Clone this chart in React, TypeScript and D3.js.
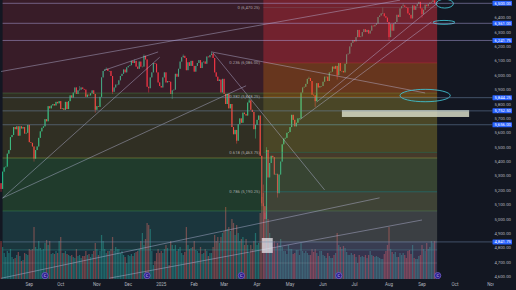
import React, { useMemo } from "react";
import * as d3 from "d3";

const HOLIDAYS = ["2024-09-02","2024-11-28","2024-12-25","2025-01-01","2025-01-20","2025-02-17","2025-04-18","2025-05-26","2025-06-19","2025-07-04","2025-09-01","2025-11-27"];

const FIRST_OPEN = 5475;
// daily closes, 2024-08-01 .. 2025-09-12
const CLOSES = [
  5460,5360,5200,5250,5210,5330,5360,5365,5455,5480,5570,5585,5640,5625,5645,5580,5645,5630,5640,5595,5600,5655,
  5535,5530,5505,5420,5480,5505,5565,5610,5635,5645,5695,5680,5785,5770,5790,5800,5790,5815,5805,5820,
  5765,5770,5760,5815,5765,5820,5860,5845,5880,5915,5870,5895,5900,5915,5905,5900,5850,5865,5860,5875,5895,5870,5760,
  5785,5780,5850,5985,6030,6040,6045,6030,6030,5995,5885,5915,5935,5935,5965,5995,6010,6040,6020,6055,
  6065,6070,6100,6085,6100,6060,6045,6095,6060,6060,6135,6110,5920,5910,5985,6020,6085,6080,6020,5950,5925,
  5915,5985,6020,5950,5960,5955,5870,5895,5900,6010,5990,6045,6095,6125,6135,6120,6035,6090,6065,6100,6065,
  6025,6065,6085,6105,6050,6090,6095,6080,6130,6125,6140,6150,6120,6020,5990,5960,5970,5880,5975,
  5870,5800,5870,5770,5800,5640,5590,5620,5545,5660,5700,5670,5740,5730,5720,5810,5825,5760,5745,5625,5655,
  5690,5720,5440,5110,5090,5000,5480,5290,5390,5440,5430,5310,5315,5180,5310,5400,5520,5560,5565,5600,5605,
  5640,5725,5690,5645,5670,5700,5700,5880,5915,5920,5940,5975,5980,5960,5865,5860,5820,5945,5915,5925,5925,
  5955,5990,5990,5960,6020,6025,6060,6045,6065,6000,6085,6030,6030,6020,6080,6145,6150,6200,6225,6245,
  6235,6265,6315,6265,6270,6300,6320,6300,6315,6290,6310,6345,6340,6350,6360,6405,6415,6430,6430,6410,6400,6370,
  6265,6355,6310,6360,6370,6420,6405,6465,6480,6485,6475,6470,6430,6420,6395,6485,6455,6480,6495,6510,6465,
  6425,6455,6490,6480,6495,6505,6510,6520,6500,
];
// daily volume (thousands)
const VOLUMES = [
  1650,1900,2400,2000,1900,1600,1300,1100,1400,1300,1500,1100,1000,1050,1200,1350,1150,900,950,1300,1250,1200,
  1500,1450,1500,2600,1600,1500,1900,1550,1450,1500,1800,1950,1700,1900,1250,1300,1250,1400,1300,1900,
  2100,1300,1300,1400,1250,1200,1150,1200,1100,1050,1500,1150,1200,1050,1150,1150,1400,1200,1250,1100,1250,1400,1800,
  1500,1200,1400,2200,1900,1500,1300,1400,1400,1500,2100,1400,1600,1500,1500,1300,1400,1200,1100,800,
  1200,1150,1250,1150,1300,1350,1400,1500,1900,2300,1700,2000,2800,2700,2500,1400,700,900,1300,1500,1300,
  1400,1300,1500,1700,1550,700,1900,1700,1500,1700,1400,1500,1600,1300,1200,1350,2600,1700,1500,1550,1600,
  1900,1450,1400,1300,1600,1250,1300,1500,1400,1150,1300,1300,1600,2200,1900,2100,1800,2100,2300,
  2400,3600,2500,2600,2400,3000,2800,2200,2700,2300,1900,2000,2100,1700,2000,1700,1300,1700,1500,1900,2300,
  1700,1800,3300,4100,4300,3300,3600,3000,2300,2000,1600,1900,1600,1800,1700,2000,1600,1400,1400,1250,1700,
  1500,1500,1250,1300,1450,1450,1200,1800,1400,1300,1400,1300,1200,1200,1500,1350,1500,1300,1150,1400,1400,
  1200,1150,1050,1300,1150,1050,1050,1200,1300,2300,1700,1600,1500,1650,1550,1350,1200,1200,1300,1200,
  1250,1100,800,1200,1100,1150,1100,1200,1050,1200,1400,1200,1150,1100,1150,1100,1050,1000,1000,1250,1400,1700,
  2600,1500,1350,1250,1350,1100,1100,1300,1200,1300,1200,1050,1400,1450,1250,1700,1050,1000,1000,1150,1200,
  1700,1500,1400,1800,1500,1600,1900,1800,1900,
];
const WICK_HIGHS: [string, number][] = [
  ["2024-10-17",5925],["2024-11-11",6055],["2024-12-06",6110],["2024-12-16",6145],["2025-01-23",6145],
  ["2025-02-19",6165],["2025-03-25",5840],["2025-04-07",5240],["2025-04-09",5500],["2025-05-19",5990],
  ["2025-07-28",6470.25],["2025-08-14",6500],["2025-09-11",6522],
];
const WICK_LOWS: [string, number][] = [
  ["2024-08-05",5120],["2024-08-07",5190],["2024-09-06",5400],["2024-10-31",5740],["2024-11-15",5870],
  ["2024-12-19",5880],["2025-01-13",5835],["2025-03-13",5525],["2025-03-31",5560],["2025-04-04",5090],
  ["2025-04-07",4841.75],["2025-04-21",5150],["2025-05-23",5780],["2025-06-13",5970],["2025-08-01",6240],
  ["2025-09-02",6400],
];

const PRICE_TICKS = [6400,6300,6200,6100,6000,5900,5800,5700,5600,5500,5400,5300,5200,5100,5000,4900,4800,4700,4600];
const MONTH_LABELS: [string, string][] = [
  ["2024-09","Sep"],["2024-10","Oct"],["2024-11","Nov"],["2024-12","Dec"],["2025-01","2025"],["2025-02","Feb"],
  ["2025-03","Mar"],["2025-04","Apr"],["2025-05","May"],["2025-06","Jun"],["2025-07","Jul"],["2025-08","Aug"],
  ["2025-09","Sep"],["2025-10","Oct"],["2025-11","Nov"],
];
const UPPER_LINES = [6500, 6361, 6241.75];
const LOWER_LINES = [5844.25, 5752.5, 5656, 4841.75];
const PLAIN_LINES = [4695];

const FIB_HIGH = 6470.25;
const FIB_LOW = 4841.75;
const FIB_LEVELS = [0, 0.236, 0.382, 0.5, 0.618, 0.786, 1];
const FIB_LABELED = [0, 0.236, 0.382, 0.618, 0.786];
const FIB_START = "2025-04-07";
const ZONE_END = "2025-09-15";
const LEFT_START = "2024-08-08";
const LEFT_LEVELS = [5876, 5425, 5057, 4786];

const TREND_LINES: [string, number, string, number][] = [
  ["2024-08-07",6026,"2025-08-12",6522],
  ["2024-11-08",6036,"2024-12-30",6162],
  ["2024-08-08",5147,"2024-12-31",6125],
  ["2024-08-08",5147,"2025-03-21",5927],
  ["2025-02-19",6162,"2025-09-04",5877],
  ["2025-02-20",6155,"2025-06-03",5203],
  ["2025-05-27",5814,"2025-09-16",6503],
  ["2025-05-09",5690,"2025-09-10",6370],
  ["2024-08-07",4589,"2025-07-24",5148],
  ["2024-11-13",4590,"2025-09-02",4994],
];
const RECTS: [string, string, number, number][] = [
  ["2025-04-04","2025-04-15",4765,4869],
  ["2025-06-18","2025-10-14",5710,5758],
];
const ELLIPSES: [string, string, number, number][] = [
  ["2025-09-15","2025-09-30",6467,6528],
  ["2025-09-11","2025-10-01",6354,6381],
  ["2025-08-12","2025-09-26",5816,5902],
];
const ROLL_MARKERS = ["2024-09-17","2024-12-18","2025-03-18","2025-06-16","2025-09-16"];

function tradingDays(start: string, end: string): string[] {
  const out: string[] = [];
  const d = new Date(start + "T12:00:00Z");
  const e = new Date(end + "T12:00:00Z");
  while (d <= e) {
    const wd = d.getUTCDay();
    const s = d.toISOString().slice(0, 10);
    if (wd !== 0 && wd !== 6 && !HOLIDAYS.includes(s)) out.push(s);
    d.setUTCDate(d.getUTCDate() + 1);
  }
  return out;
}

const W = 516, H = 290, PLOT_R = 490, PLOT_B = 279;
const FONT = "Roboto, 'Noto Sans', sans-serif";

export default function App() {
  const days = useMemo(() => tradingDays("2024-08-01", "2025-11-28"), []);
  const di = (s: string) => days.indexOf(s);
  const x = d3.scaleLinear().domain([di("2024-09-03"), di("2025-09-02")]).range([29.3, 422]);
  const y = d3.scaleLinear().domain([4600, 6500]).range([276.7, 3.3]);
  const v = d3.scaleLinear().domain([0, 4500]).range([PLOT_B, 189]);
  const xd = (s: string) => x(di(s));
  const fmt = d3.format(",.2f");

  const hiMap = new Map(WICK_HIGHS);
  const loMap = new Map(WICK_LOWS);
  const candles = CLOSES.map((c, i) => {
    const o = i === 0 ? FIRST_OPEN : CLOSES[i - 1];
    const d = days[i];
    const h = Math.max(o, c, hiMap.has(d) ? hiMap.get(d)! : -Infinity);
    const l = Math.min(o, c, loMap.has(d) ? loMap.get(d)! : Infinity);
    return { d, i, o, c, h, l, up: c >= o, vol: VOLUMES[i] };
  });

  const fibPrice = (lvl: number) => FIB_HIGH - lvl * (FIB_HIGH - FIB_LOW);
  const round4 = (p: number) => Math.round(p * 4) / 4;
  const xEnd = xd(ZONE_END) + 1;
  const xLeft = xd(LEFT_START);
  const xFib = xd(FIB_START);

  const leftBounds = [7000, ...LEFT_LEVELS, 4000];
  const leftColors = ["rgba(242,54,69,0.17)", "rgba(230,200,40,0.14)", "rgba(76,175,80,0.24)", "rgba(60,170,160,0.22)", "rgba(60,170,190,0.14)"];
  const leftLineColors = ["#4f8f50", "#a8b848", "#3f9a5a", "#3a9a9a"];
  const rightBounds = [7000, fibPrice(0.236), fibPrice(0.382), fibPrice(0.618), fibPrice(0.786), fibPrice(1), 4000];
  const rightColors = ["rgba(245,50,62,0.31)", "rgba(255,140,0,0.24)", "rgba(255,235,59,0.13)", "rgba(200,130,95,0.14)", "rgba(190,100,95,0.2)", "rgba(165,85,160,0.22)"];
  const fibLineColors = ["#787b86", "#f23645", "#ff9800", "#4caf50", "#089981", "#00bcd4", "#787b86"];

  const monthX = MONTH_LABELS.map(([ym, lab]) => {
    const d = days.find((s) => s.startsWith(ym));
    return { lab, x: d ? xd(d) : -100 };
  });

  return (
    <svg width={W} height={H} style={{ position: "absolute", left: 0, top: 0, display: "block" }} fontFamily={FONT}>
      <defs>
        <clipPath id="plot"><rect x={0} y={0} width={PLOT_R} height={PLOT_B} /></clipPath>
        <clipPath id="taxis"><rect x={0} y={PLOT_B} width={494} height={H - PLOT_B} /></clipPath>
      </defs>
      <rect x={0} y={0} width={W} height={H} fill="#131722" />
      <g clipPath="url(#plot)">
        {candles.map((k) => (
          <rect key={"v" + k.i} x={x(k.i) - 0.62} width={1.24} y={v(k.vol)} height={PLOT_B - v(k.vol)}
            fill={k.up ? "rgba(38,166,154,0.5)" : "rgba(239,83,80,0.5)"} />
        ))}
        {candles.map((k) => {
          const col = k.up ? "#22b58c" : "#f23645";
          const top = y(Math.max(k.o, k.c));
          const hgt = Math.max(0.6, Math.abs(y(k.o) - y(k.c)));
          return (
            <g key={"c" + k.i}>
              <line x1={x(k.i)} x2={x(k.i)} y1={y(k.h)} y2={y(k.l)} stroke={col} strokeWidth={0.5} />
              <rect x={x(k.i) - 0.55} width={1.1} y={top} height={hgt} fill={col} />
            </g>
          );
        })}
        {leftColors.map((c, j) => (
          <rect key={"lz" + j} x={xLeft} width={xEnd - xLeft} y={y(leftBounds[j])} height={y(leftBounds[j + 1]) - y(leftBounds[j])} fill={c} />
        ))}
        {LEFT_LEVELS.map((p, j) => (
          <line key={"ll" + j} x1={xLeft} x2={xEnd} y1={y(p)} y2={y(p)} stroke={leftLineColors[j]} strokeOpacity={0.6} strokeWidth={0.7} />
        ))}
        {rightColors.map((c, j) => (
          <rect key={"rz" + j} x={xFib} width={xEnd - xFib} y={y(rightBounds[j])} height={y(rightBounds[j + 1]) - y(rightBounds[j])} fill={c} />
        ))}
        {FIB_LEVELS.map((l, j) => (
          <line key={"fl" + j} x1={xFib} x2={xEnd} y1={y(fibPrice(l))} y2={y(fibPrice(l))} stroke={fibLineColors[j]} strokeOpacity={0.45} strokeWidth={0.6} />
        ))}
        {FIB_LABELED.map((l) => (
          <text key={"ft" + l} x={xFib - 3.5} y={y(fibPrice(l)) + 1.4} fontSize={4.2} textAnchor="end" fill="rgba(210,210,210,0.75)">
            {`${l} (${fmt(round4(fibPrice(l)))})`}
          </text>
        ))}
        {TREND_LINES.map(([d1, p1, d2, p2], j) => (
          <line key={"tl" + j} x1={xd(d1)} y1={y(p1)} x2={xd(d2)} y2={y(p2)} stroke="rgba(195,195,230,0.6)" strokeWidth={0.7} />
        ))}
        {RECTS.map(([d1, d2, p1, p2], j) => (
          <rect key={"r" + j} x={xd(d1)} width={xd(d2) - xd(d1)} y={y(p2)} height={y(p1) - y(p2)}
            fill={j === 0 ? "rgba(238,232,238,0.72)" : "rgba(214,217,196,0.85)"} />
        ))}
        {ELLIPSES.map(([d1, d2, p1, p2], j) => (
          <ellipse key={"e" + j} cx={(xd(d1) + xd(d2)) / 2} cy={(y(p1) + y(p2)) / 2}
            rx={Math.abs(xd(d2) - xd(d1)) / 2} ry={Math.abs(y(p1) - y(p2)) / 2}
            fill="none" stroke="#3fbfcf" strokeWidth={0.9} />
        ))}
        {ROLL_MARKERS.map((d) => (
          <g key={"m" + d}>
            <circle cx={xd(d)} cy={275.6} r={3.1} fill="#2c1d8c" stroke="#7e6ad6" strokeWidth={0.7} />
            <text x={xd(d)} y={277} fontSize={3.8} textAnchor="middle" fill="#e6e0ff">C</text>
          </g>
        ))}
      </g>
      {PLAIN_LINES.map((p) => (
        <line key={"pl" + p} x1={2.6} x2={xEnd} y1={y(p)} y2={y(p)} stroke="rgba(200,200,200,0.3)" strokeWidth={0.6} />
      ))}
      {UPPER_LINES.map((p) => (
        <line key={"ul" + p} x1={2.6} x2={492.5} y1={y(p)} y2={y(p)} stroke="rgba(175,165,225,0.7)" strokeWidth={0.7} />
      ))}
      {LOWER_LINES.map((p) => (
        <line key={"lo" + p} x1={2.6} x2={492.5} y1={y(p)} y2={y(p)} stroke="rgba(115,140,175,0.7)" strokeWidth={0.7} />
      ))}
      {PRICE_TICKS.map((p) => (
        <text key={"pt" + p} x={511} y={y(p) + 1.5} fontSize={4.3} textAnchor="end" fill="#b2b5be">{fmt(p)}</text>
      ))}
      {[...UPPER_LINES, ...LOWER_LINES].map((p) => (
        <g key={"bl" + p}>
          <rect x={492.5} y={y(p) - 2.5} width={19.5} height={5} rx={0.6} fill="#2962ff" />
          <text x={511} y={y(p) + 1.5} fontSize={4.3} textAnchor="end" fill="#ffffff">{fmt(p)}</text>
        </g>
      ))}
      <g clipPath="url(#taxis)">
        {monthX.map((m, j) => (
          <text key={"mx" + j} x={m.x} y={285.6} fontSize={4.5} textAnchor="middle" fill="#b2b5be">{m.lab}</text>
        ))}
      </g>
    </svg>
  );
}
